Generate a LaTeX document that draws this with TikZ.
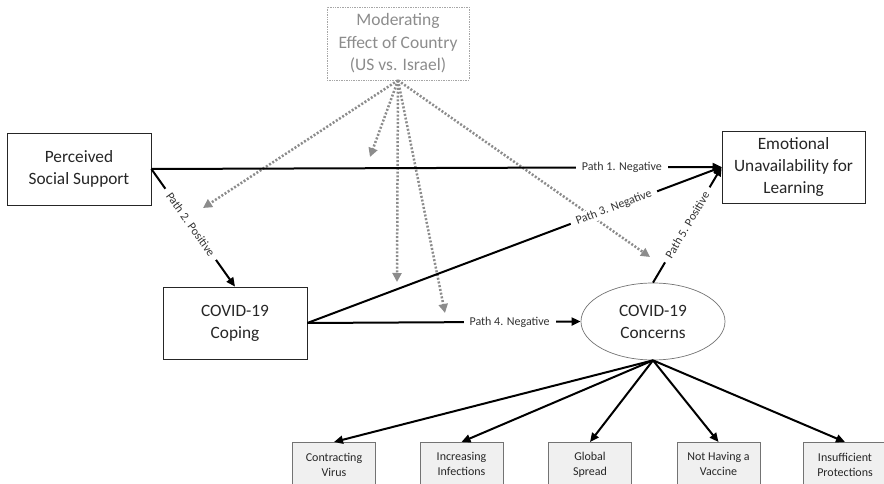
\documentclass[tikz,border=0pt]{standalone}
\usepackage{fontspec}
\setmainfont{Carlito}
\usetikzlibrary{arrows.meta,shapes.geometric}
\definecolor{txt}{HTML}{262626}
\begin{document}
\begin{tikzpicture}[x=1pt,y=-1pt,
  mainbox/.style={draw=black!85,line width=0.7pt,minimum width=144pt,minimum height=72pt,
    inner sep=0pt,align=center,font=\fontsize{17.3}{22}\selectfont,text=txt},
  modbox/.style={draw=black!35,densely dotted,line width=0.7pt,minimum width=142pt,minimum height=73pt,
    inner sep=0pt,align=center,font=\fontsize{17.5}{22.5}\selectfont,text=black!45},
  concell/.style={ellipse,draw=black!55,line width=0.7pt,minimum width=144pt,minimum height=77pt,
    inner sep=0pt,align=center,font=\fontsize{17.3}{22}\selectfont,text=txt},
  indbox/.style={draw=black!55,fill=black!6,line width=0.8pt,minimum width=83pt,minimum height=44pt,
    inner sep=0pt,anchor=north,align=center,font=\fontsize{12}{15}\selectfont,text=txt},
  pathar/.style={line width=2pt,draw=black,-{Triangle[length=9pt,width=8pt]}},
  indar/.style={line width=2pt,draw=black,-{Triangle[length=9pt,width=8pt]}},
  modar/.style={line width=2.5pt,draw=black!45,dash pattern=on 2pt off 1.8pt,
    -{Triangle[length=9pt,width=9pt]}},
  plabel/.style={fill=white,inner xsep=6pt,inner ysep=1.5pt,font=\fontsize{12}{14}\selectfont,text=black!80}
]
\useasboundingbox (0,0) rectangle (884,484);
\clip (0,0) rectangle (884,484);

\node[modbox] (mod) at (398,43.5) {Moderating\\Effect of Country\\(US vs. Israel)};
\node[mainbox] (pss) at (79,169) {Perceived\\Social Support};
\node[mainbox,minimum width=143pt] (emo) at (793.5,167) {Emotional\\Unavailability for\\Learning};
\node[mainbox] (cop) at (235,323) {COVID-19\\Coping};
\node[concell] (con) at (653,321.5) {COVID-19\\Concerns};

\node[indbox] (b1) at (334,442) {Contracting\\Virus};
\node[indbox] (b2) at (461.5,442) {Increasing\\Infections};
\node[indbox] (b3) at (590,442) {Global\\Spread};
\node[indbox] (b4) at (718.5,442) {Not Having a\\Vaccine};
\node[indbox] (b5) at (845,442) {Insufficient\\Protections};

\coordinate (d1) at (203,208);
\coordinate (d2) at (370,157);
\coordinate (d3) at (397,282);
\coordinate (d4) at (445,313);
\coordinate (d5) at (650,257);

\draw[modar] (mod.south) -- (d1);
\draw[modar] (mod.south) -- (d2);
\draw[modar] (mod.south) -- (d3);
\draw[modar] (mod.south) -- (d4);
\draw[modar] (mod.south) -- (d5);

\draw[pathar] (pss.east) -- node[plabel,pos=0.825] {Path 1. Negative} (emo.west);
\draw[pathar] (pss.east) -- node[plabel,pos=0.47,sloped] {Path 2. Positive} (cop.north);
\draw[pathar] (cop.east) -- node[plabel,pos=0.74,sloped] {Path 3. Negative} (emo.west);
\draw[pathar] (cop.east) -- node[plabel,pos=0.74] {Path 4. Negative} (con.west);
\draw[pathar] (con.north) -- node[plabel,pos=0.5,sloped] {Path 5. Positive} (emo.west);

\draw[indar] (con.south) -- (b1.north);
\draw[indar] (con.south) -- (b2.north);
\draw[indar] (con.south) -- (b3.north);
\draw[indar] (con.south) -- (b4.north);
\draw[indar] (con.south) -- (b5.north);
\end{tikzpicture}
\end{document}
